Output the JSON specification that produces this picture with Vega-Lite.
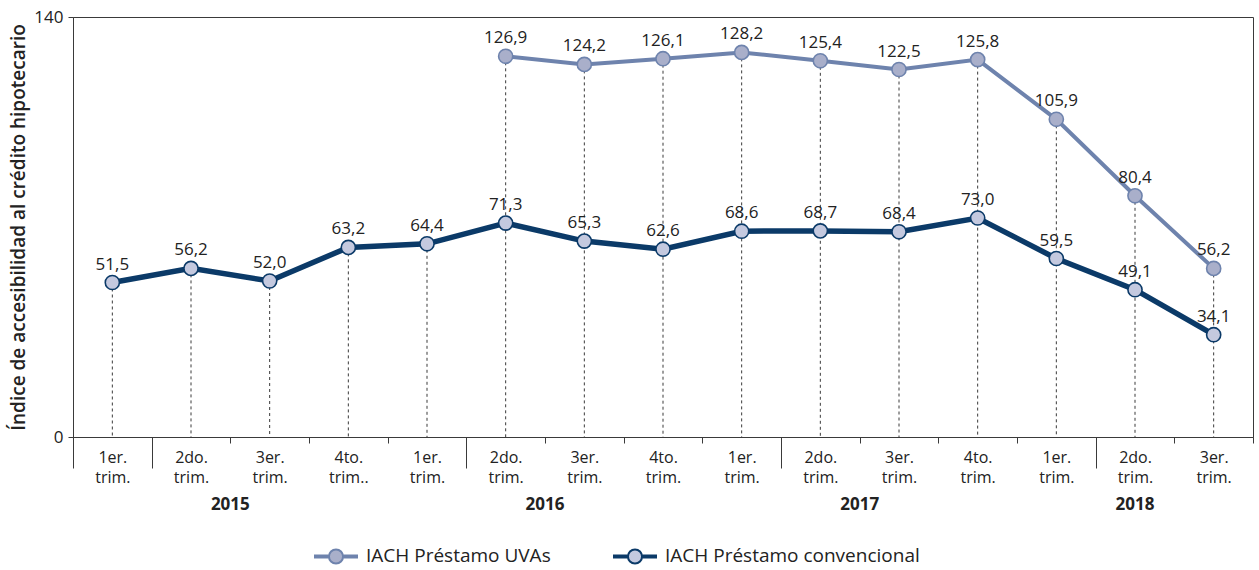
{
  "$schema": "https://vega.github.io/schema/vega-lite/v6.json",
  "width": 1180,
  "height": 420,
  "autosize": "none",
  "padding": {"left": 73, "top": 17, "right": 6, "bottom": 133},
  "background": "white",
  "config": {
    "font": "Open Sans",
    "locale": {"number": {"decimal": ",", "thousands": ".", "grouping": [3], "currency": ["$", ""]}},
    "view": {"stroke": "#3a3a3a", "strokeWidth": 1},
    "axis": {"grid": false},
    "legend": {
      "title": null, "orient": "none", "legendX": 240, "legendY": 516, "direction": "horizontal",
      "symbolType": "M-1,-0.05H-0.32M-1,0.05H-0.32M0.32,-0.05H1M0.32,0.05H1M-0.32,0A0.32,0.32,0,1,0,0.32,0A0.32,0.32,0,1,0,-0.32,0Z",
      "symbolSize": 1936, "symbolStrokeWidth": 2,
      "labelFontSize": 19, "labelColor": "#222222", "labelOffset": 7, "labelLimit": 400,
      "columnPadding": 58
    }
  },
  "data": {
    "values": [
      {"q": "2015 1er. trim.", "serie": "IACH Préstamo convencional", "v": 51.5},
      {"q": "2015 2do. trim.", "serie": "IACH Préstamo convencional", "v": 56.2},
      {"q": "2015 3er. trim.", "serie": "IACH Préstamo convencional", "v": 52.0},
      {"q": "2015 4to. trim..", "serie": "IACH Préstamo convencional", "v": 63.2},
      {"q": "2016 1er. trim.", "serie": "IACH Préstamo convencional", "v": 64.4},
      {"q": "2016 2do. trim.", "serie": "IACH Préstamo convencional", "v": 71.3},
      {"q": "2016 3er. trim.", "serie": "IACH Préstamo convencional", "v": 65.3},
      {"q": "2016 4to. trim.", "serie": "IACH Préstamo convencional", "v": 62.6},
      {"q": "2017 1er. trim.", "serie": "IACH Préstamo convencional", "v": 68.6},
      {"q": "2017 2do. trim.", "serie": "IACH Préstamo convencional", "v": 68.7},
      {"q": "2017 3er. trim.", "serie": "IACH Préstamo convencional", "v": 68.4},
      {"q": "2017 4to. trim.", "serie": "IACH Préstamo convencional", "v": 73.0},
      {"q": "2018 1er. trim.", "serie": "IACH Préstamo convencional", "v": 59.5},
      {"q": "2018 2do. trim.", "serie": "IACH Préstamo convencional", "v": 49.1},
      {"q": "2018 3er. trim.", "serie": "IACH Préstamo convencional", "v": 34.1},
      {"q": "2016 2do. trim.", "serie": "IACH Préstamo UVAs", "v": 126.9},
      {"q": "2016 3er. trim.", "serie": "IACH Préstamo UVAs", "v": 124.2},
      {"q": "2016 4to. trim.", "serie": "IACH Préstamo UVAs", "v": 126.1},
      {"q": "2017 1er. trim.", "serie": "IACH Préstamo UVAs", "v": 128.2},
      {"q": "2017 2do. trim.", "serie": "IACH Préstamo UVAs", "v": 125.4},
      {"q": "2017 3er. trim.", "serie": "IACH Préstamo UVAs", "v": 122.5},
      {"q": "2017 4to. trim.", "serie": "IACH Préstamo UVAs", "v": 125.8},
      {"q": "2018 1er. trim.", "serie": "IACH Préstamo UVAs", "v": 105.9},
      {"q": "2018 2do. trim.", "serie": "IACH Préstamo UVAs", "v": 80.4},
      {"q": "2018 3er. trim.", "serie": "IACH Préstamo UVAs", "v": 56.2}
    ]
  },
  "layer": [
    {
      "mark": {"type": "rule", "strokeDash": [3, 3], "color": "#3a3a3a", "strokeWidth": 1},
      "encoding": {
        "x": {
          "field": "q", "type": "ordinal",
          "scale": {"type": "band", "paddingInner": 0, "paddingOuter": 0},
          "axis": {
            "orient": "bottom",
            "title": null,
            "labelExpr": "isString(datum.value) ? split(slice(datum.value, 5), ' ') : ''",
            "tickBand": "extent",
            "labelAngle": 0,
            "tickSize": {"condition": {"test": "datum.extra || indexof(datum.value + '', '1er.') >= 0", "value": 31}, "value": 6},
            "labelPadding": {"condition": {"test": "indexof(datum.value + '', '1er.') >= 0", "value": -19}, "value": 6},
            "labelFontSize": 16,
            "labelLineHeight": 20,
            "labelColor": "#222222",
            "tickColor": "#3a3a3a",
            "domainColor": "#3a3a3a"
          }
        },
        "y": {
          "aggregate": "max", "field": "v", "type": "quantitative",
          "scale": {"domain": [0, 140], "nice": false},
          "title": "Índice de accesibilidad al crédito hipotecario",
          "axis": {
            "values": [0, 140],
            "labelFontSize": 17,
            "labelColor": "#222222",
            "labelPadding": 5,
            "tickSize": 5,
            "tickColor": "#3a3a3a",
            "domainColor": "#3a3a3a",
            "titleFontSize": 19,
            "titleFontWeight": 600,
            "titleColor": "#222222",
            "titlePadding": 5
          }
        },
        "y2": {"datum": 0}
      }
    },
    {
      "mark": {"type": "line"},
      "encoding": {
        "x": {"field": "q", "type": "ordinal", "axis": null},
        "y": {"field": "v", "type": "quantitative", "title": "Índice de accesibilidad al crédito hipotecario"},
        "stroke": {
          "field": "serie", "type": "nominal",
          "scale": {"domain": ["IACH Préstamo UVAs", "IACH Préstamo convencional"], "range": ["#6e83ad", "#0b3a68"]}
        },
        "strokeWidth": {"condition": {"test": "datum.serie == 'IACH Préstamo UVAs'", "value": 4}, "value": 5.5}
      }
    },
    {
      "mark": {"type": "circle", "size": 200, "strokeWidth": 1.6, "opacity": 1},
      "encoding": {
        "x": {"field": "q", "type": "ordinal", "axis": null},
        "y": {"field": "v", "type": "quantitative", "title": "Índice de accesibilidad al crédito hipotecario"},
        "fill": {
          "field": "serie", "type": "nominal",
          "scale": {"domain": ["IACH Préstamo UVAs", "IACH Préstamo convencional"], "range": ["#a9afca", "#c4c9df"]}
        },
        "stroke": {
          "field": "serie", "type": "nominal",
          "scale": {"domain": ["IACH Préstamo UVAs", "IACH Préstamo convencional"], "range": ["#6e83ad", "#0b3a68"]}
        }
      }
    },
    {
      "mark": {"type": "text", "dy": -18, "fontSize": 17, "color": "#222222"},
      "encoding": {
        "x": {
          "field": "q", "type": "ordinal",
          "axis": {
            "orient": "bottom",
            "title": null,
            "values": ["2015 2do. trim.", "2016 2do. trim.", "2017 2do. trim.", "2018 2do. trim."],
            "labelExpr": "isString(datum.value) ? slice(datum.value, 0, 4) : ''",
            "ticks": false,
            "domain": false,
            "labelAngle": 0,
            "labelPadding": 59,
            "labelFontSize": 17,
            "labelFontWeight": "bold",
            "labelColor": "#222222",
            "labelOffset": {"condition": {"test": "indexof(datum.value + '', '2018') >= 0", "value": 0}, "value": 39.33}
          }
        },
        "y": {"field": "v", "type": "quantitative", "title": "Índice de accesibilidad al crédito hipotecario"},
        "text": {"field": "v", "type": "quantitative", "format": ".1f"}
      }
    }
  ],
  "resolve": {"axis": {"x": "independent"}}
}
